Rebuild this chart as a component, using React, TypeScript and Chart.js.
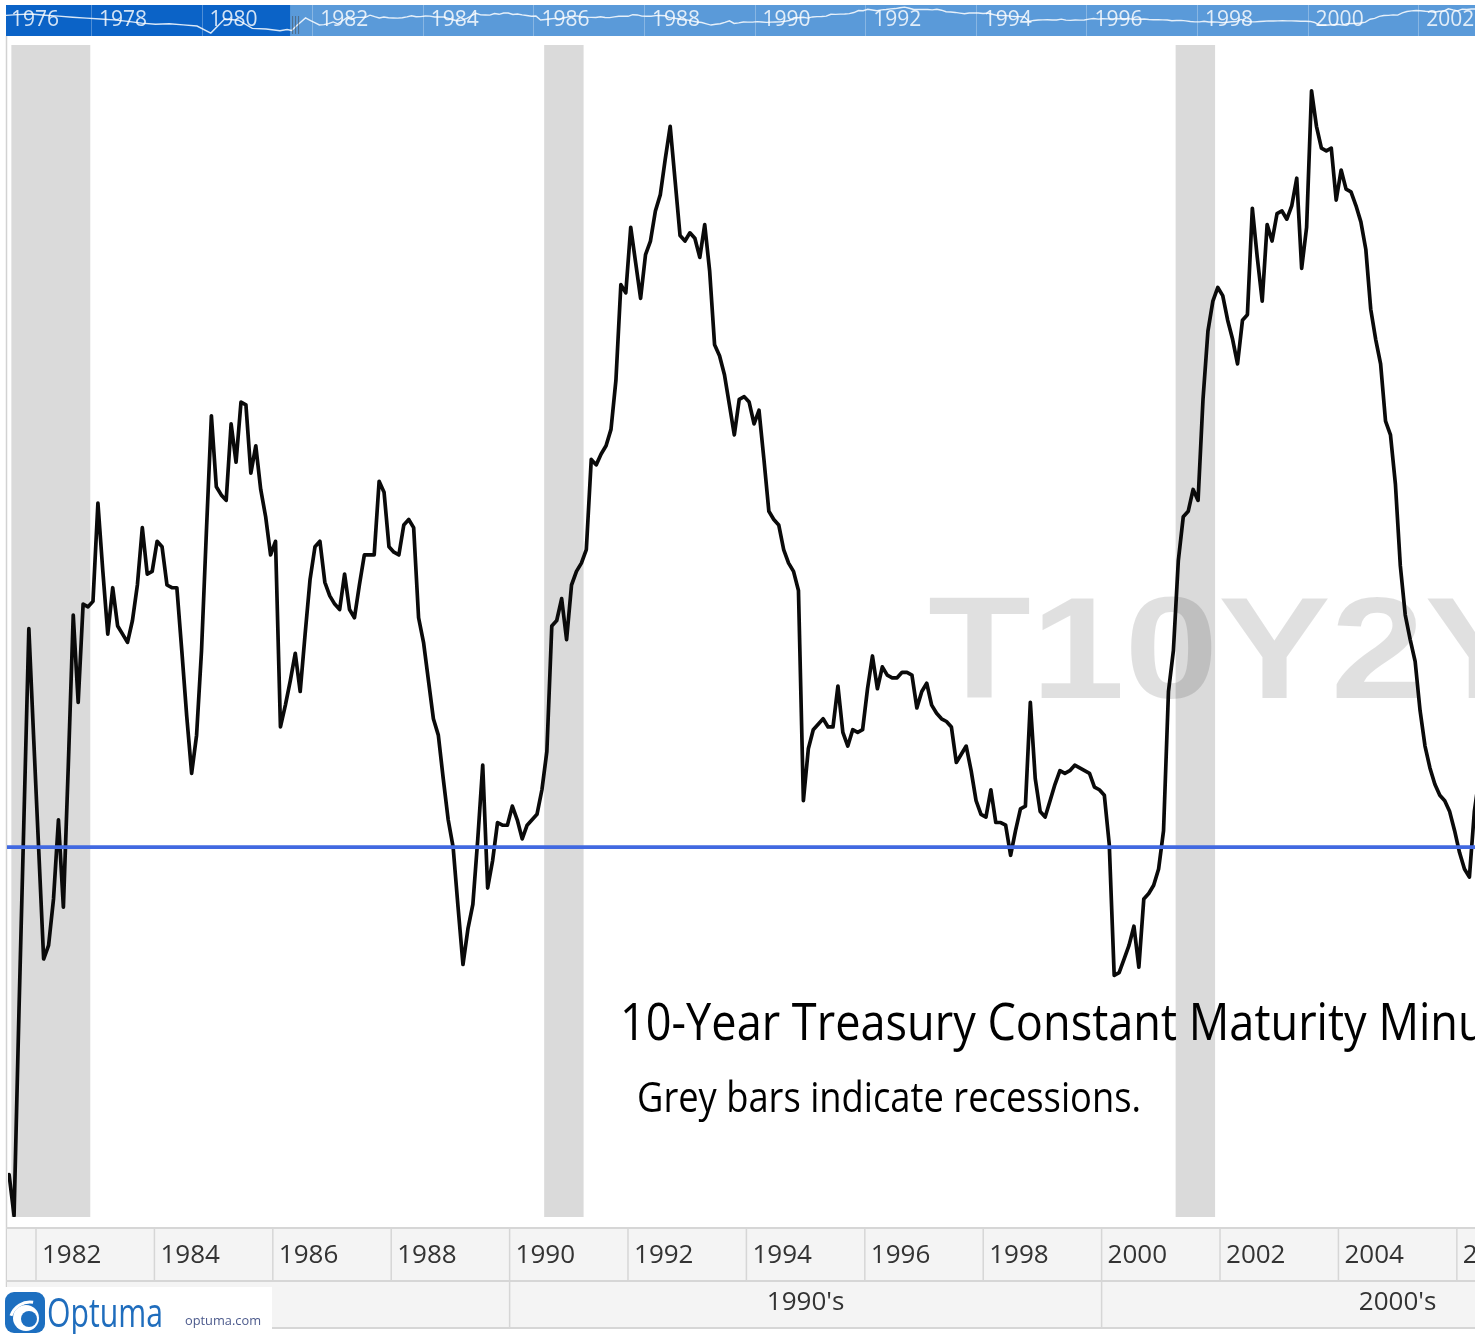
import React, { useEffect, useRef } from "react";
import { Chart, registerables } from "chart.js";

Chart.register(...registerables);

// ---------------- data ----------------
// Monthly 10Y-2Y Treasury spread (%), first observation June 1981
const seriesStart = "1981-06";
const spread: number[] = [
  // 1981 Jun-Dec
  -1.20, -1.35, -0.60, 0.10, 0.80, 0.39, -0.01,
  // 1982
  -0.41, -0.36, -0.19, 0.10, -0.22, 0.30, 0.85, 0.53, 0.89, 0.88, 0.90, 1.26,
  // 1983
  1.01, 0.78, 0.95, 0.81, 0.78, 0.75, 0.83, 0.96, 1.17, 1.00, 1.01, 1.12,
  // 1984
  1.10, 0.96, 0.95, 0.95, 0.72, 0.48, 0.27, 0.41, 0.72, 1.16, 1.58, 1.32,
  // 1985
  1.29, 1.27, 1.55, 1.41, 1.63, 1.62, 1.37, 1.47, 1.31, 1.21, 1.07, 1.12,
  // 1986
  0.44, 0.52, 0.61, 0.71, 0.57, 0.78, 0.98, 1.10, 1.12, 0.97, 0.92, 0.89,
  // 1987
  0.87, 1.00, 0.87, 0.84, 0.96, 1.07, 1.07, 1.07, 1.34, 1.30, 1.10, 1.08,
  // 1988
  1.07, 1.18, 1.20, 1.17, 0.84, 0.75, 0.61, 0.47, 0.41, 0.25, 0.10, 0.00,
  // 1989
  -0.22, -0.43, -0.30, -0.21, 0.03, 0.30, -0.15, -0.05, 0.09, 0.08, 0.08, 0.15,
  // 1990
  0.10, 0.03, 0.08, 0.10, 0.12, 0.21, 0.35, 0.81, 0.83, 0.91, 0.76, 0.96,
  // 1991
  1.01, 1.04, 1.09, 1.42, 1.40, 1.44, 1.47, 1.53, 1.71, 2.06, 2.03, 2.27,
  // 1992
  2.14, 2.01, 2.17, 2.22, 2.33, 2.39, 2.52, 2.64, 2.44, 2.24, 2.22, 2.25,
  // 1993
  2.23, 2.16, 2.28, 2.11, 1.84, 1.80, 1.73, 1.62, 1.51, 1.64, 1.65, 1.63,
  // 1994
  1.55, 1.60, 1.42, 1.23, 1.20, 1.18, 1.09, 1.04, 1.01, 0.94, 0.17, 0.36,
  // 1995
  0.43, 0.45, 0.47, 0.44, 0.44, 0.59, 0.42, 0.37, 0.43, 0.42, 0.43, 0.58,
  // 1996
  0.70, 0.58, 0.66, 0.63, 0.62, 0.62, 0.64, 0.64, 0.63, 0.51, 0.57, 0.60,
  // 1997
  0.52, 0.49, 0.47, 0.46, 0.44, 0.31, 0.34, 0.37, 0.28, 0.17, 0.12, 0.11,
  // 1998
  0.21, 0.09, 0.09, 0.08, -0.03, 0.06, 0.14, 0.15, 0.53, 0.25, 0.13, 0.11,
  // 1999
  0.17, 0.23, 0.28, 0.27, 0.28, 0.30, 0.29, 0.28, 0.27, 0.22, 0.21, 0.19,
  // 2000
  0.01, -0.47, -0.46, -0.41, -0.36, -0.29, -0.44, -0.19, -0.17, -0.14, -0.08, 0.06,
  // 2001
  0.57, 0.72, 1.05, 1.21, 1.23, 1.31, 1.27, 1.64, 1.89, 2.00, 2.05, 2.02,
  // 2002
  1.93, 1.86, 1.77, 1.93, 1.95, 2.34, 2.16, 2.00, 2.28, 2.22, 2.32, 2.33,
  // 2003
  2.30, 2.35, 2.45, 2.12, 2.27, 2.77, 2.64, 2.56, 2.55, 2.56, 2.37, 2.48,
  // 2004
  2.41, 2.40, 2.35, 2.29, 2.19, 1.97, 1.86, 1.77, 1.56, 1.51, 1.33, 1.03,
  // 2005
  0.85, 0.76, 0.68, 0.50, 0.37, 0.29, 0.23, 0.19, 0.17, 0.13, 0.06, -0.02,
  // 2006 Jan-Apr
  -0.08, -0.11, 0.13, 0.26,
];

// Earlier history shown only in the navigator strip (quarterly readings)
const navHistoryStart = "1976-02";
const navHistoryStepMonths = 3;
const navHistory: number[] = [
  1.30, 1.20, 1.35, 1.45, 1.25, 1.10, 0.90, 0.75, 0.60, 0.45, 0.20, -0.10,
  -0.30, -0.20, -0.40, -0.60, -1.80, 0.60, 0.40, -1.00, -1.10, -1.40,
];

// NBER recessions (first month, last month)
const recessionStarts = ["1981-07", "1990-07", "2001-03"];
const recessionEnds = ["1982-11", "1991-03", "2001-11"];

// Axis labels
const yearTicks = [1982, 1984, 1986, 1988, 1990, 1992, 1994, 1996, 1998, 2000, 2002, 2004, 2006];
const decadeStarts = [1990, 2000];
const decadeLabels = ["1990's", "2000's"];
const navYearTicks = [1976, 1978, 1980, 1982, 1984, 1986, 1988, 1990, 1992, 1994, 1996, 1998, 2000, 2002];

const watermarkText = "T10Y2Y";
const titleText = "10-Year Treasury Constant Maturity Minus 2-Year Treasury Constant Maturity";
const subtitleText = "Grey bars indicate recessions.";

// ---------------- helpers ----------------
// month-end position of a "YYYY-MM" month, plus an optional month shift
function toT(ym: string, addMonths = 0): number {
  const [y, m] = ym.split("-").map(Number);
  return y + (m - 1 + addMonths + 1) / 12;
}

// observations are stamped a little after month end
const obsLagMonths = 0.55;

const mainXMin = 1981.527;
const mainXMax = 2006.307;
const mainYMin = -1.355;
const mainYMax = 2.938;

const navXMin = 1976.463;
const navXMax = 2003.027;
const navYMin = -2.3;
const navYMax = 3.0;
const navWindowStart = 1981.6;

function drawFitted(ctx: CanvasRenderingContext2D, text: string, x: number, y: number, font: string, measureText: string, width: number) {
  ctx.save();
  ctx.font = font;
  const w = ctx.measureText(measureText).width;
  const s = width / w;
  ctx.translate(x, y);
  ctx.scale(s, 1);
  ctx.fillText(text, 0, 0);
  ctx.restore();
}

const mainPlugin = {
  id: "optumaMain",
  beforeDraw(chart: any) {
    const { ctx, chartArea: a } = chart;
    const xs = chart.scales.x;
    ctx.save();
    ctx.fillStyle = "#ffffff";
    ctx.fillRect(0, 0, chart.width, chart.height);

    // recession bands
    ctx.fillStyle = "rgba(0,0,0,0.145)";
    recessionStarts.forEach((s, i) => {
      const x0 = Math.max(a.left + 2, xs.getPixelForValue(toT(s)));
      const x1 = Math.min(a.right, xs.getPixelForValue(toT(recessionEnds[i])));
      ctx.fillRect(x0, a.top, x1 - x0, a.bottom - a.top);
    });

    // watermark
    ctx.fillStyle = "rgba(0,0,0,0.12)";
    ctx.textBaseline = "alphabetic";
    ctx.textAlign = "left";
    ctx.font = 'bold 144px "Liberation Sans", Arial, sans-serif';
    ctx.translate(928, 698);
    ctx.scale(1.17, 1);
    ctx.fillText(watermarkText, 0, 0);
    ctx.restore();

    // left border
    ctx.save();
    ctx.strokeStyle = "#d2d2d2";
    ctx.lineWidth = 1.5;
    ctx.beginPath();
    ctx.moveTo(6.5, 36);
    ctx.lineTo(6.5, chart.height);
    ctx.stroke();
    ctx.restore();
  },
  afterDatasetsDraw(chart: any) {
    const { ctx, chartArea: a } = chart;
    const xs = chart.scales.x;
    const ys = chart.scales.y;
    ctx.save();

    // zero line
    const y0 = ys.getPixelForValue(0);
    ctx.strokeStyle = "#4169e1";
    ctx.lineWidth = 3.6;
    ctx.beginPath();
    ctx.moveTo(7, y0);
    ctx.lineTo(a.right, y0);
    ctx.stroke();

    // title and note
    ctx.fillStyle = "#000000";
    ctx.textAlign = "left";
    ctx.textBaseline = "alphabetic";
    drawFitted(ctx, titleText, 620, 1040, '52px "Open Sans", sans-serif', "10-Year Treasury Constant Maturity Min", 838);
    drawFitted(ctx, subtitleText, 637, 1112, '42px "Open Sans", sans-serif', subtitleText, 504);

    // bottom date axis
    const row1Top = 1228;
    const row2Top = 1281;
    const rowBottom = 1328;
    ctx.fillStyle = "#f4f4f4";
    ctx.fillRect(7, row1Top, chart.width - 7, rowBottom - row1Top);
    ctx.strokeStyle = "#d6d6d6";
    ctx.lineWidth = 2;
    [row1Top, row2Top, rowBottom].forEach((yy) => {
      ctx.beginPath();
      ctx.moveTo(6, yy);
      ctx.lineTo(chart.width, yy);
      ctx.stroke();
    });
    ctx.lineWidth = 1.5;
    ctx.font = '26px "Open Sans", sans-serif';
    ctx.fillStyle = "#333333";
    ctx.textBaseline = "middle";
    yearTicks.forEach((yr) => {
      const px = xs.getPixelForValue(yr);
      ctx.beginPath();
      ctx.moveTo(px, row1Top);
      ctx.lineTo(px, row2Top);
      ctx.stroke();
      ctx.fillText(String(yr), px + 6, 1256);
    });
    decadeStarts.forEach((d, i) => {
      const p0 = xs.getPixelForValue(d);
      const p1 = xs.getPixelForValue(d + 10);
      ctx.beginPath();
      ctx.moveTo(p0, row2Top);
      ctx.lineTo(p0, rowBottom);
      ctx.stroke();
      ctx.textAlign = "center";
      ctx.fillText(decadeLabels[i], (p0 + p1) / 2, 1303);
      ctx.textAlign = "left";
    });

    // logo area
    ctx.fillStyle = "#ffffff";
    ctx.fillRect(0, 1287, 272, chart.height - 1287);
    // icon
    ctx.fillStyle = "#1d6fc0";
    ctx.beginPath();
    (ctx as any).roundRect(5, 1292, 40, 41, 9);
    ctx.fill();
    ctx.fillStyle = "#ffffff";
    ctx.beginPath();
    ctx.arc(26, 1318, 13, 0, Math.PI * 2);
    ctx.fill();
    ctx.fillStyle = "#1d6fc0";
    ctx.beginPath();
    ctx.arc(29, 1319, 8, 0, Math.PI * 2);
    ctx.fill();
    ctx.strokeStyle = "#ffffff";
    ctx.lineWidth = 3;
    ctx.beginPath();
    ctx.arc(30, 1322, 20, Math.PI * 1.1, Math.PI * 1.55);
    ctx.stroke();
    // wordmark
    ctx.textBaseline = "alphabetic";
    ctx.fillStyle = "#1f6dbd";
    drawFitted(ctx, "Optuma", 47, 1327, '500 40px "Open Sans", sans-serif', "Optuma", 116);
    ctx.fillStyle = "#4c5a8c";
    drawFitted(ctx, "optuma.com", 185, 1325, '13px "Open Sans", sans-serif', "optuma.com", 76);

    ctx.restore();
  },
};

const navPlugin = {
  id: "optumaNav",
  beforeDraw(chart: any) {
    const { ctx } = chart;
    const xs = chart.scales.x;
    const w = chart.width;
    const h = chart.height;
    ctx.save();
    ctx.fillStyle = "#5a9ad9";
    ctx.fillRect(0, 0, w, h);
    ctx.fillStyle = "#0b63c7";
    ctx.fillRect(0, 0, xs.getPixelForValue(navWindowStart), h);
    ctx.strokeStyle = "rgba(255,255,255,0.28)";
    ctx.lineWidth = 1;
    ctx.font = '21px "Open Sans", sans-serif';
    ctx.textBaseline = "middle";
    ctx.textAlign = "left";
    navYearTicks.forEach((yr) => {
      const px = xs.getPixelForValue(yr);
      ctx.beginPath();
      ctx.moveTo(Math.round(px) + 0.5, 0);
      ctx.lineTo(Math.round(px) + 0.5, h);
      ctx.stroke();
      ctx.fillStyle = "rgba(255,255,255,0.82)";
      ctx.fillText(String(yr), Math.max(px + 8, 5), 15.5);
    });
    ctx.restore();
  },
  afterDatasetsDraw(chart: any) {
    const { ctx } = chart;
    const xs = chart.scales.x;
    const px = xs.getPixelForValue(navWindowStart);
    ctx.save();
    ctx.strokeStyle = "rgba(70,70,70,0.55)";
    ctx.lineWidth = 1;
    [2, 5, 8].forEach((d) => {
      ctx.beginPath();
      ctx.moveTo(px + d + 0.5, 11);
      ctx.lineTo(px + d + 0.5, 29);
      ctx.stroke();
    });
    ctx.restore();
  },
};

export default function App() {
  const mainRef = useRef<HTMLCanvasElement>(null);
  const navRef = useRef<HTMLCanvasElement>(null);

  useEffect(() => {
    document.body.style.margin = "0";
    const mainPoints = spread.map((v, i) => ({ x: toT(seriesStart, i + obsLagMonths), y: v }));
    const navPoints = [
      ...navHistory.map((v, i) => ({ x: toT(navHistoryStart, i * navHistoryStepMonths), y: v })),
      ...mainPoints,
    ];

    const main = new Chart(mainRef.current as HTMLCanvasElement, {
      type: "line",
      data: {
        datasets: [
          {
            data: mainPoints,
            borderColor: "#0a0a0a",
            borderWidth: 3.7,
            pointRadius: 0,
            tension: 0,
            borderJoinStyle: "round",
            borderCapStyle: "round",
          },
        ],
      },
      options: {
        responsive: false,
        animation: false,
        devicePixelRatio: 1,
        events: [],
        layout: { padding: { left: 8, top: 45, right: 0, bottom: 117 } },
        scales: {
          x: { type: "linear", min: mainXMin, max: mainXMax, display: false },
          y: { type: "linear", min: mainYMin, max: mainYMax, display: false },
        },
        plugins: { legend: { display: false }, tooltip: { enabled: false } },
      },
      plugins: [mainPlugin],
    } as any);

    const nav = new Chart(navRef.current as HTMLCanvasElement, {
      type: "line",
      data: {
        datasets: [
          {
            data: navPoints,
            borderColor: "rgba(255,255,255,0.85)",
            borderWidth: 1.4,
            pointRadius: 0,
            tension: 0,
          },
        ],
      },
      options: {
        responsive: false,
        animation: false,
        devicePixelRatio: 1,
        events: [],
        layout: { padding: 0 },
        scales: {
          x: { type: "linear", min: navXMin, max: navXMax, display: false },
          y: { type: "linear", min: navYMin, max: navYMax, display: false },
        },
        plugins: { legend: { display: false }, tooltip: { enabled: false } },
      },
      plugins: [navPlugin],
    } as any);

    return () => {
      main.destroy();
      nav.destroy();
    };
  }, []);

  return (
    <div style={{ position: "absolute", left: 0, top: 0, width: 1475, height: 1334, overflow: "hidden", background: "#ffffff" }}>
      <canvas ref={mainRef} width={1475} height={1334} style={{ position: "absolute", left: 0, top: 0, width: 1475, height: 1334 }} />
      <canvas ref={navRef} width={1469} height={31} style={{ position: "absolute", left: 6, top: 5, width: 1469, height: 31 }} />
    </div>
  );
}
